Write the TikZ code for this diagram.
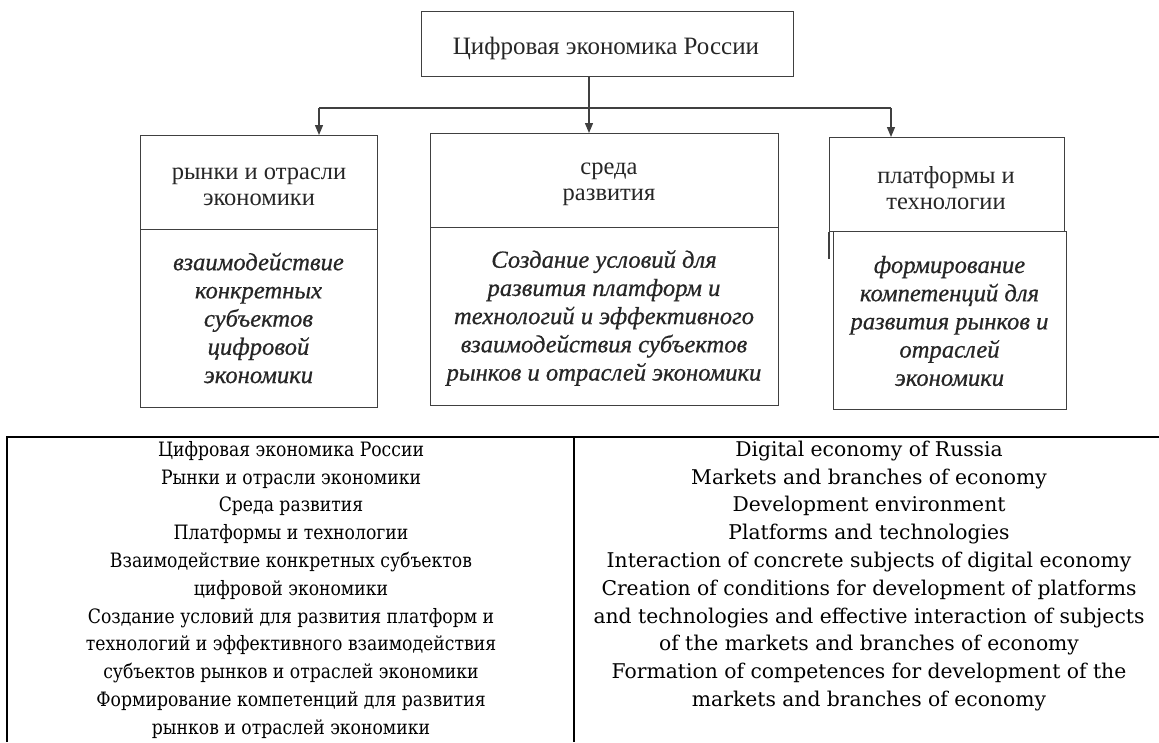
\documentclass[tikz,border=0pt]{standalone}
\usepackage{fontspec}
\setmainfont{Liberation Serif}
\newfontfamily\tabfont{DejaVu Serif}
\newfontfamily\ltabfont[FakeStretch=0.87]{DejaVu Serif}
\newfontfamily\boxitfont[FakeBold=0.6]{Liberation Serif Italic}
\usetikzlibrary{arrows.meta}
\begin{document}
\begin{tikzpicture}[x=1pt,y=-1pt,
 boxline/.style={draw=black!75, line width=1.3pt},
 frame/.style={boxline, anchor=north west, inner sep=0pt},
 toptext/.style={align=center, inner sep=0pt, text=black!85, font=\fontsize{25}{26}\selectfont},
 headtext/.style={align=center, inner sep=0pt, text=black!85, font=\fontsize{24.5}{26}\selectfont},
 bodytext/.style={align=center, inner sep=0pt, text=black!85, font=\boxitfont\fontsize{24.6}{28.2}\selectfont},
 conn/.style={draw=black!75, line width=1.3pt},
 arr/.style={conn, -{Triangle[length=10pt,width=8pt]}},
 tabline/.style={draw=black, line width=2pt},
 ltext/.style={anchor=mid, inner sep=0pt, font=\ltabfont\fontsize{19.8}{22}\selectfont},
 rtext/.style={anchor=mid, inner sep=0pt, font=\tabfont\fontsize{20.3}{22}\selectfont}]
\useasboundingbox (0,0) rectangle (1159,742);
\fill[white] (0,0) rectangle (1159,742);

% top box
\node[frame, minimum width=372pt, minimum height=65pt] (top) at (421,11) {};
\node[toptext] (topt) at (606,48) {Цифровая экономика России};

% upper boxes
\node[frame, minimum width=237pt, minimum height=94pt] (u1) at (140,135) {};
\node[frame, minimum width=348pt, minimum height=94pt] (u2) at (430,133) {};
\node[frame, minimum width=235pt, minimum height=94pt] (u3) at (829,137) {};
\node[headtext] (u1t) at (259,187) {рынки и отрасли\\экономики};
\node[headtext] (u2t) at (609,184) {среда\\развития};
\node[headtext] (u3t) at (946,188) {платформы и\\технологии};

% lower boxes
\node[frame, minimum width=237pt, minimum height=178pt] (d1) at (140,229) {};
\node[frame, minimum width=348pt, minimum height=178pt] (d2) at (430,227) {};
\node[frame, minimum width=233pt, minimum height=178pt] (d3) at (833,231) {};
\draw[conn] (u3.south west) -- ++(0,27);
\node[bodytext] (d1t) at (258.5,318) {взаимодействие\\конкретных\\субъектов\\цифровой\\экономики};
\node[bodytext] (d2t) at (604,318) {Создание условий для\\развития платформ и\\технологий и эффективного\\взаимодействия субъектов\\рынков и отраслей экономики};
\node[bodytext] (d3t) at (949.5,321) {формирование\\компетенций для\\развития рынков и\\отраслей\\экономики};

% connectors
\coordinate (j) at (589,108);
\coordinate (jl) at (319,108);
\coordinate (jr) at (891,108);
\draw[conn] (j |- top.south) -- (j);
\draw[conn] (jl) -- (jr);
\draw[arr] (jl) -- (jl |- u1.north);
\draw[arr] (j) -- (j |- u2.north);
\draw[arr] (jr) -- (jr |- u3.north);

% table
\draw[tabline] (7,742) -- (7,437) -- (1159,437);
\draw[tabline] (574,437) -- (574,742);

\foreach \t [count=\i] in {Цифровая экономика России,Рынки и отрасли экономики,Среда развития,Платформы и технологии,Взаимодействие конкретных субъектов,цифровой экономики,Создание условий для развития платформ и,технологий и эффективного взаимодействия,субъектов рынков и отраслей экономики,Формирование компетенций для развития,рынков и отраслей экономики}
  \node[ltext] (L\i) at (291,{454+27.8*(\i-1)}) {\t};

\foreach \t [count=\i] in {Digital economy of Russia,Markets and branches of economy,Development environment,Platforms and technologies,Interaction of concrete subjects of digital economy,Creation of conditions for development of platforms,and technologies and effective interaction of subjects,of the markets and branches of economy,Formation of competences for development of the,markets and branches of economy}
  \node[rtext] (R\i) at (869,{454+27.8*(\i-1)}) {\t};
\end{tikzpicture}
\end{document}
